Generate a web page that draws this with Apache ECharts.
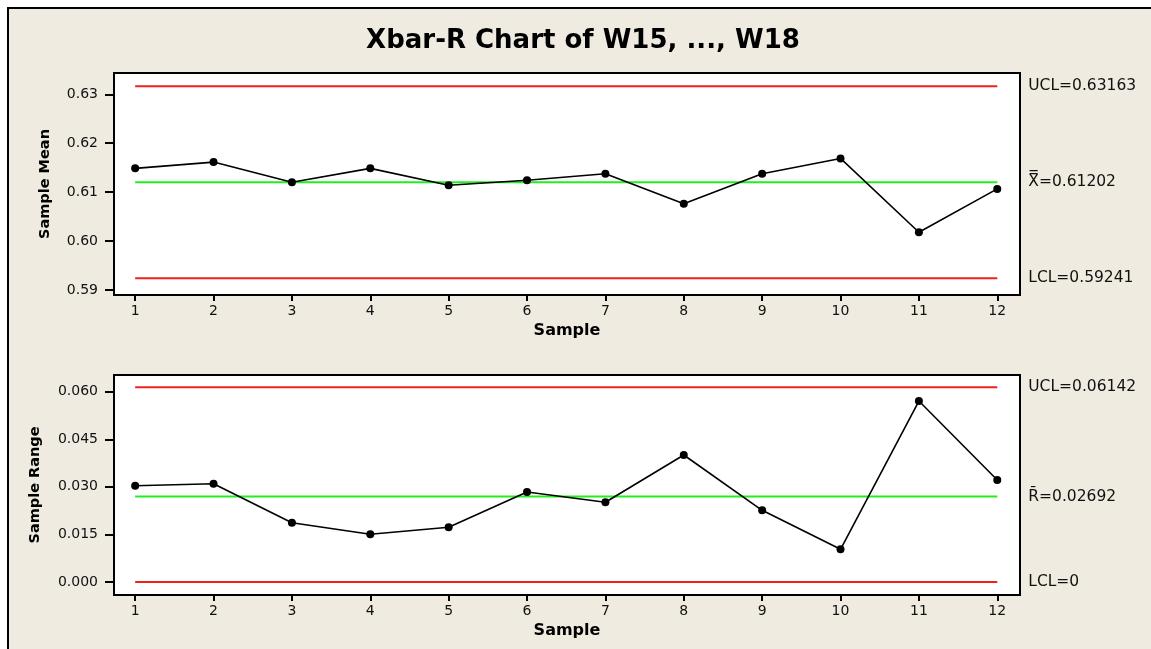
<!DOCTYPE html>
<html>
<head>
<meta charset="utf-8">
<title>Xbar-R Chart of W15, ..., W18</title>
<script src="https://cdn.jsdelivr.net/npm/echarts@6/dist/echarts.min.js"></script>
<style>
  html, body { margin: 0; padding: 0; background: #ffffff; overflow: hidden; }
  #frame {
    position: absolute; left: 7px; top: 7px; width: 1300px; height: 800px;
    background: #efebe1; border-left: 2px solid #000; border-top: 2px solid #000;
  }
  #chart { position: absolute; left: 0; top: 0; width: 1151px; height: 649px; }
</style>
</head>
<body>
<div id="frame"></div>
<div id="chart"></div>
<script>
// Subgroup numbers
const samples = [1, 2, 3, 4, 5, 6, 7, 8, 9, 10, 11, 12];
// Subgroup means (Xbar chart)
const sampleMeans = [0.61487, 0.61615, 0.61203, 0.61487, 0.61142, 0.61243, 0.61377, 0.60763, 0.61377, 0.61690, 0.60181, 0.61067];
// Subgroup ranges (R chart)
const sampleRanges = [0.03036, 0.03099, 0.01869, 0.01504, 0.01724, 0.02837, 0.02513, 0.04004, 0.02260, 0.01031, 0.05706, 0.03216];
// Control limits: upper, centre, lower
const meanLimitNames = ['UCL', 'X\u033F', 'LCL'];
const meanLimitValues = [0.63163, 0.61202, 0.59241];
const rangeLimitNames = ['UCL', 'R\u0304', 'LCL'];
const rangeLimitValues = [0.06142, 0.02692, 0];
// Tick values
const meanTicks = [0.59, 0.60, 0.61, 0.62, 0.63];
const rangeTicks = [0.000, 0.015, 0.030, 0.045, 0.060];

const FONT = 'DejaVu Sans';
const limitColors = ['#f21f1f', '#1ff01f', '#f21f1f'];

function xAxisFor(gridIndex) {
  return {
    type: 'value', gridIndex: gridIndex, min: 0.73, max: 12.29,
    name: 'Sample', nameLocation: 'middle', nameGap: 28,
    nameTextStyle: { fontFamily: FONT, fontWeight: 'bold', fontSize: 16, color: '#000' },
    axisLine: { show: true, onZero: false, lineStyle: { color: '#000', width: 2 } },
    axisTick: { show: true, length: 6, lineStyle: { color: '#000', width: 2 }, customValues: samples },
    axisLabel: { fontFamily: FONT, fontSize: 14, color: '#111', margin: 9, customValues: samples },
    splitLine: { show: false }
  };
}

function yAxisFor(gridIndex, min, max, ticks, digits, title, gap) {
  return {
    type: 'value', gridIndex: gridIndex, min: min, max: max,
    name: title, nameLocation: 'middle', nameGap: gap, nameRotate: 90,
    nameTextStyle: { fontFamily: FONT, fontWeight: 'bold', fontSize: 14.5, color: '#000' },
    axisLine: { show: true, onZero: false, lineStyle: { color: '#000', width: 2 } },
    axisTick: { show: true, length: 9, lineStyle: { color: '#000', width: 2 }, customValues: ticks },
    axisLabel: {
      fontFamily: FONT, fontSize: 14, color: '#111', margin: 16, customValues: ticks,
      formatter: v => v.toFixed(digits)
    },
    splitLine: { show: false }
  };
}

function limitSeries(names, values, axisIndex) {
  return values.map((v, i) => ({
    type: 'line', xAxisIndex: axisIndex, yAxisIndex: axisIndex,
    data: [[samples[0], v], [samples[samples.length - 1], v]],
    symbol: 'none', silent: true, animation: false, z: 1,
    lineStyle: { color: limitColors[i], width: 2 },
    endLabel: {
      show: true, distance: 31, fontFamily: FONT, fontSize: 15.5, color: '#111',
      formatter: () => names[i] + '=' + String(v)
    }
  }));
}

function dataSeries(values, axisIndex) {
  return {
    type: 'line', xAxisIndex: axisIndex, yAxisIndex: axisIndex,
    data: samples.map((s, i) => [s, values[i]]),
    symbol: 'circle', symbolSize: 8, showSymbol: true, animation: false, z: 3,
    itemStyle: { color: '#000' },
    lineStyle: { color: '#000', width: 1.6 }
  };
}

const chart = echarts.init(document.getElementById('chart'), null, { renderer: 'canvas' });
chart.setOption({
  backgroundColor: 'transparent',
  animation: false,
  title: {
    text: 'Xbar-R Chart of W15, ..., W18',
    left: 578, top: 23, textAlign: 'center',
    textStyle: { fontFamily: FONT, fontWeight: 'bold', fontSize: 26, color: '#000' }
  },
  grid: [
    { left: 114, top: 73, right: 131, height: 222, show: true, backgroundColor: '#ffffff', borderColor: '#000', borderWidth: 2 },
    { left: 114, top: 375, right: 131, height: 220, show: true, backgroundColor: '#ffffff', borderColor: '#000', borderWidth: 2 }
  ],
  xAxis: [xAxisFor(0), xAxisFor(1)],
  yAxis: [
    yAxisFor(0, 0.58898, 0.63436, meanTicks, 2, 'Sample Mean', 61),
    yAxisFor(1, -0.0041, 0.06527, rangeTicks, 3, 'Sample Range', 71)
  ],
  series: [
    ...limitSeries(meanLimitNames, meanLimitValues, 0),
    dataSeries(sampleMeans, 0),
    ...limitSeries(rangeLimitNames, rangeLimitValues, 1),
    dataSeries(sampleRanges, 1)
  ]
});
</script>
</body>
</html>
